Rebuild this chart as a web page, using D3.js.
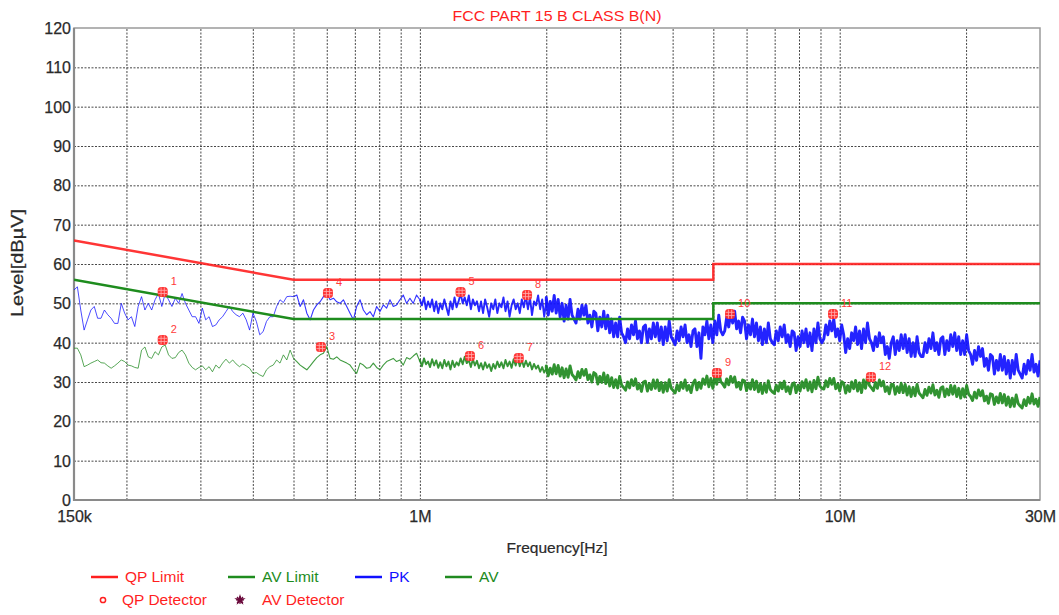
<!DOCTYPE html>
<html><head><meta charset="utf-8">
<script src="https://cdn.jsdelivr.net/npm/d3@7"></script>
<style>
body{margin:0;background:#fff;}
svg{display:block;font-family:"Liberation Sans",Arial,sans-serif;}
</style>
</head><body>
<svg id="chart" width="1059" height="615"></svg>
<script>
// ---------------- DATA ----------------
const title = "FCC PART 15 B CLASS B(N)";
const yTicks = [0,10,20,30,40,50,60,70,80,90,100,110,120];
const xGridFreqs = [0.2,0.3,0.4,0.5,0.6,0.7,0.8,0.9,1,2,3,4,5,6,7,8,9,10,20]; // MHz
const xTickFreqs = [0.15,1,10,30];
const xTickText = ["150k","1M","10M","30M"];

const qpLimitFreq  = [0.15,0.5,5,5,30];
const qpLimitLevel = [66,56,56,60,60];
const avLimitFreq  = [0.15,0.5,5,5,30];
const avLimitLevel = [56,46,46,50,50];

// Sweep segments (frequency span in MHz)
const segSpans = [[0.15,0.5],[0.5,1],[1,2],[2,30]];

const pkSegA = [53.4,54.2,48.3,43.2,45.8,48.3,49.2,46.2,46.2,48.3,
47.1,46.2,44.9,44.9,50.0,47.5,45.8,46.6,44.1,49.2,
51.7,48.3,50.0,48.3,50.9,52.5,49.2,52.5,50.9,49.2,
51.3,50.0,52.5,50.0,48.3,46.6,46.6,44.9,48.8,45.8,
46.6,44.1,44.5,45.8,46.6,47.9,49.2,47.9,47.1,46.6,
47.5,45.8,43.2,47.5,45.4,42.0,42.8,45.4,46.6,46.6,
49.2,50.9,50.2,51.7,51.8,51.7];
const pkSegB1 = [51.7,52.1,49.2,50.9,47.5,45.8,48.3,49.6,50.4,51.7,52.5,50.9,51.3,50.4,50.0,50.9,49.2,47.5,45.8,49.2,
50.9,48.3,47.1,47.9,46.6,49.2,47.9,49.6,48.8,50.9,49.2,49.6,50.9,52.1,50.0,51.3,50.0,52.1,50.9];
const pkSegB2 = [50.9,49.5,51.5,48.5,50.5,49.0,51.0,48.0,50.5,47.5,
50.0,48.5,51.0,49.0,47.0,50.5,48.5,51.5,49.0,50.5,
52.5,50.0,51.5,49.5,52.0,48.5,51.0,49.5,50.5,48.0,
50.5,47.5,51.0,49.0,46.6,50.0,48.5,51.0,47.5,50.0,
49.0,51.5,48.0,50.5,46.6,49.5,51.0,48.5,50.0,47.5,
51.0,49.0,52.0,48.5,51.5,47.0,50.5,49.5,52.0,48.5,51.0,46.6,50.5];
const pkSegC = [
51.5,47,50.5,48,52, 47.5,51,46.5,50,45.5, 49.5,46,51,47,46, 45,48.5,46,49.5,47, 49.5,45,47,44,48,
47.5,43,46.5,44,48, 43.5,47,42.5,46,41.5, 45,41.5,46.5,42.5,41.5, 40,43.5,41,44.5,42, 45.5,41,43,40,44,
44.5,40,43.5,41,45, 41.5,45,40.5,44,39.5, 44,40.5,45.5,41.5,40.5, 39.5,43,40.5,44,41.5, 44.5,40,42,39,43,
43.5,39,42.5,36,44, 42,45.5,41,44.5,40, 45.5,42,47,43,42, 43,46.5,44,47.5,45, 48,43.5,45.5,42.5,46.5,
45.5,41,44.5,42,46, 41.5,45,40.5,44,39.5, 43.5,40,45,41,40, 39.5,43,40.5,44,41.5, 44.5,40,42,39,43,
42.5,38,41.5,39,43, 40,43.5,39,42.5,38, 43.5,40,45,41,40, 41,44.5,42,45.5,43, 46,41.5,43.5,40.5,44.5,
42,37.5,41,38.5,42.5, 40.5,44,39.5,43,38.5, 43.5,40,45,41,40, 38,41.5,39,42.5,40, 41.5,37,39,36,40,
41.5,37,40.5,38,42, 38.5,42,37.5,41,36.5, 40,36.5,41.5,37.5,36.5, 36.5,40,37.5,41,38.5, 42.5,38,40,37,41,
41.5,37,40.5,38,42, 39,42.5,38,41.5,37, 40.5,37,42,38,37, 34.5,38,35.5,39,36.5, 38.5,34,36,33,37,
36.5,32,35.5,33,37, 33,36.5,32,35.5,31, 35.5,32,37,33,32, 31,34.5,32,35.5,33, 37,32.5,34.5,31.5,35.5];

const avSegA = [38.6,38.6,36.9,33.9,34.3,34.8,35.2,35.6,34.9,34.8,
34.1,33.5,34.1,34.8,35.6,35.2,34.3,34.1,33.7,33.5,
38.1,38.9,36.4,36.0,37.7,36.9,38.9,39.4,36.9,36.0,
36.2,37.5,38.1,36.9,34.8,33.7,33.1,33.7,34.1,33.1,
33.9,32.6,34.3,33.5,34.8,35.8,34.8,35.6,34.6,33.9,
34.6,34.1,33.5,32.2,32.4,31.8,31.4,33.1,33.9,34.3,
35.6,34.8,36.9,35.6,38.1,36.0];
const avSegB1 = [36.0,35.2,34.3,33.7,33.1,34.1,35.2,36.2,36.9,37.3,39.0,36.0,35.8,36.4,35.6,35.2,34.8,34.3,33.1,32.2,
34.8,34.3,33.5,33.7,34.8,33.7,33.1,34.3,35.2,35.6,36.0,35.2,35.6,34.3,36.2,35.8,36.6,37.3,35.2];
const avSegB2 = [35.6,34.0,36.0,34.5,35.2,33.8,35.8,34.2,35.5,33.6,
35.0,33.5,35.6,34.0,35.2,33.2,35.4,33.8,35.0,34.2,
36.0,34.5,36.4,34.8,35.6,33.8,35.8,34.2,35.4,33.5,
34.8,33.2,35.0,33.6,34.5,32.8,34.6,33.4,35.2,33.8,
35.0,33.5,35.6,34.0,35.2,33.6,35.8,34.2,36.0,34.0,
35.6,33.8,35.4,34.0,35.0,33.2,34.6,33.4,34.2,32.6,33.8,32.4,33.4];
const avSegC = [
34.1,31.6,33.5,32.0,34.4, 32.1,34.2,31.5,33.6,31.1, 33.3,31.2,34.1,31.9,31.3, 30.5,32.6,31.1,33.2,31.7, 33.2,30.6,31.8,30.0,32.4,
32.0,29.5,31.4,29.9,32.3, 29.6,31.7,29.0,31.1,28.6, 30.6,28.5,31.4,29.2,28.6, 27.9,30.0,28.5,30.6,29.1, 30.8,28.2,29.4,27.6,30.0,
30.2,27.7,29.6,28.1,30.5, 28.4,30.5,27.8,29.9,27.4, 29.8,27.7,30.6,28.4,27.8, 27.2,29.3,27.8,29.9,28.4, 30.5,27.9,29.1,27.3,29.7,
30.5,28.0,29.9,28.4,30.8, 29.4,31.5,28.8,30.9,28.4, 31.5,29.4,32.3,30.1,29.5, 28.7,30.8,29.3,31.4,29.9, 31.3,28.7,29.9,28.1,30.5,
30.3,27.8,29.7,28.2,30.6, 28.1,30.2,27.5,29.6,27.1, 29.5,27.4,30.3,28.1,27.5, 27.1,29.2,27.7,29.8,28.3, 30.2,27.6,28.8,27.0,29.4,
29.8,27.3,29.2,27.7,30.1, 28.5,30.6,27.9,30.0,27.5, 30.4,28.3,31.2,29.0,28.4, 28.2,30.3,28.8,30.9,29.4, 30.9,28.3,29.5,27.7,30.1,
29.7,27.2,29.1,27.6,30.0, 28.3,30.4,27.7,29.8,27.3, 30.5,28.4,31.3,29.1,28.5, 27.8,29.9,28.4,30.5,29.0, 30.2,27.6,28.8,27.0,29.4,
29.4,26.9,28.8,27.3,29.7, 27.3,29.4,26.7,28.8,26.3, 28.6,26.5,29.4,27.2,26.6, 26.0,28.1,26.6,28.7,27.2, 29.3,26.7,27.9,26.1,28.5,
28.8,26.3,28.2,26.7,29.1, 26.9,29.0,26.3,28.4,25.9, 28.3,26.2,29.1,26.9,26.3, 25.3,27.4,25.9,28.0,26.5, 27.8,25.2,26.4,24.6,27.0,
26.8,24.3,26.2,24.7,27.1, 24.7,26.8,24.1,26.2,23.7, 25.9,23.8,26.7,24.5,23.9, 23.4,25.5,24.0,26.1,24.6, 27.0,24.4,25.6,23.8,26.2];

const markerFreq  = [0.244,0.244,0.581,0.604,1.25,1.316,1.72,1.80,5.10,5.48,9.64,11.87];
const markerLevel = [52.9,40.7,38.9,52.6,52.9,36.6,36.1,52.1,32.3,47.3,47.3,31.3];
const markerLabel = ["1","2","3","4","5","6","7","8","9","10","11","12"];

const legendLineNames = ["QP Limit","AV Limit","PK","AV"];
const legendMarkerNames = ["QP Detector","AV Detector"];

// ---------------- DRAW ----------------
const C = {red:"#ff1f1f", green:"#1e8c1e", blue:"#1010ff", avg:"#208a20", grid:"#333", text:"#2a2a2a"};
const svg = d3.select("#chart");
const L=74, R=1040, T=28, B=500;
const x = d3.scaleLog().domain([0.15,30]).range([L,R]);
const y = d3.scaleLinear().domain([0,120]).range([B,T]);

function sweep(span, vals){
  const [f0,f1]=span;
  return vals.map((v,i)=>[f0*Math.pow(f1/f0, i/(vals.length-1)), v]);
}
const pkSegs = [pkSegA,pkSegB1,pkSegB2,pkSegC].map((s,i)=>sweep(segSpans[i],s));
const avSegs = [avSegA,avSegB1,avSegB2,avSegC].map((s,i)=>sweep(segSpans[i],s));
const segWidth = [1,1.1,1.9,2.9];
const segOpacity = [0.75,0.85,0.9,0.92];

// title
svg.append("text").attr("x",557).attr("y",21).attr("text-anchor","middle")
  .attr("font-size",15).attr("textLength",209).attr("lengthAdjust","spacingAndGlyphs")
  .attr("fill",C.red).text(title);

// grid
const gridV = svg.append("g").attr("transform",`translate(0,${B})`)
  .call(d3.axisBottom(x).tickValues(xGridFreqs).tickSize(-(B-T)).tickFormat(""));
const gridH = svg.append("g").attr("transform",`translate(${L},0)`)
  .call(d3.axisLeft(y).tickValues(yTicks.filter(d=>d>0&&d<120)).tickSize(-(R-L)).tickFormat(""));
[gridV,gridH].forEach(g=>{
  g.select(".domain").remove();
  g.selectAll("line").attr("stroke",C.grid).attr("stroke-width",1).attr("stroke-dasharray","2,1.5").attr("opacity",0.9);
});

// frame
svg.append("rect").attr("x",L).attr("y",T).attr("width",R-L).attr("height",B-T)
  .attr("fill","none").attr("stroke","#9a9a9a").attr("stroke-width",1.5);
svg.append("path").attr("d",`M${L},${T}V${B}H${R}`).attr("fill","none").attr("stroke","#8a8a8a").attr("stroke-width",2.2);

// tick labels
const yLab = svg.append("g").attr("transform",`translate(${L-3},0)`)
  .call(d3.axisLeft(y).tickValues(yTicks).tickSize(0).tickPadding(0));
const xLab = svg.append("g").attr("transform",`translate(0,${B})`)
  .call(d3.axisBottom(x).tickValues(xTickFreqs).tickFormat((d,i)=>xTickText[i]).tickSize(0).tickPadding(11));
[yLab,xLab].forEach(g=>{
  g.select(".domain").remove();
  g.selectAll("text").attr("font-size",16).attr("fill",C.text)
    .attr("stroke",C.text).attr("stroke-width",0.25)
    .attr("font-family","Liberation Sans, Arial, sans-serif");
});
yLab.selectAll("text").attr("dy","0.35em");

// axis titles
svg.append("text").attr("x",557).attr("y",553).attr("text-anchor","middle")
  .attr("font-size",15).attr("textLength",101).attr("lengthAdjust","spacingAndGlyphs")
  .attr("fill",C.text).attr("stroke",C.text).attr("stroke-width",0.2).text("Frequency[Hz]");
svg.append("text").attr("transform","translate(23,263) rotate(-90)").attr("text-anchor","middle")
  .attr("font-size",16).attr("textLength",108).attr("lengthAdjust","spacingAndGlyphs")
  .attr("fill",C.text).attr("stroke",C.text).attr("stroke-width",0.25).text("Level[dBµV]");

// traces
svg.append("defs").append("clipPath").attr("id","clip").append("rect")
  .attr("x",L).attr("y",T).attr("width",R-L).attr("height",B-T);
const line = d3.line().x(d=>x(d[0])).y(d=>y(d[1]));
const plot = svg.append("g").attr("clip-path","url(#clip)");
function drawSegs(segs,color){
  segs.forEach((s,i)=>{
    const pts = i>0 ? [segs[i-1][segs[i-1].length-1]].concat(s) : s;
    plot.append("path").datum(pts).attr("d",line).attr("fill","none")
      .attr("stroke",color).attr("stroke-width",segWidth[i]).attr("opacity",segOpacity[i])
      .attr("stroke-linejoin","round");
  });
}
drawSegs(pkSegs,C.blue);
drawSegs(avSegs,C.avg);

// limits
const limLine = d3.line().x(d=>x(d[0])).y(d=>y(d[1]));
plot.append("path").datum(avLimitFreq.map((f,i)=>[f,avLimitLevel[i]])).attr("d",limLine)
  .attr("fill","none").attr("stroke",C.green).attr("stroke-width",2.5);
plot.append("path").datum(qpLimitFreq.map((f,i)=>[f,qpLimitLevel[i]])).attr("d",limLine)
  .attr("fill","none").attr("stroke",C.red).attr("stroke-width",2.5).attr("opacity",0.9);

// markers
const mk = svg.append("g").selectAll("g").data(markerFreq.map((f,i)=>({f,v:markerLevel[i],t:markerLabel[i]})))
  .join("g").attr("transform",d=>`translate(${x(d.f)},${y(d.v)})`);
mk.append("rect").attr("x",-5).attr("y",-5).attr("width",10).attr("height",10).attr("rx",3.5)
  .attr("fill","#ff2a2a").attr("opacity",0.95);
mk.append("path").attr("d","M-4.5,-1.6H4.5M-4.5,1.6H4.5M-1.6,-4.5V4.5M1.6,-4.5V4.5").attr("stroke","#ffb0b0").attr("stroke-width",0.8);
mk.append("text").attr("x",8).attr("y",-7).attr("font-size",11).attr("fill","#ff3a3a").text(d=>d.t);

// legend
const legColors=[C.red,C.green,C.blue,C.avg];
const legX=[91,228,355,445];
legendLineNames.forEach((n,i)=>{
  svg.append("line").attr("x1",legX[i]).attr("x2",legX[i]+27).attr("y1",577).attr("y2",577)
    .attr("stroke",legColors[i]).attr("stroke-width",2.5);
  svg.append("text").attr("x",legX[i]+34).attr("y",582).attr("font-size",15.5).attr("fill",legColors[i]).text(n);
});
svg.append("circle").attr("cx",103).attr("cy",600).attr("r",2.6).attr("fill","none").attr("stroke",C.red).attr("stroke-width",1.5);
svg.append("text").attr("x",122).attr("y",605).attr("font-size",15.5).attr("fill",C.red).text(legendMarkerNames[0]);
svg.append("path").attr("transform","translate(240,600)")
  .attr("d",d3.symbol(d3.symbolStar,40)()).attr("fill","#6b0a3c");
svg.append("path").attr("transform","translate(240,600)")
  .attr("d","M-4,0H4M0,-4V4M-3,-3L3,3M-3,3L3,-3").attr("stroke","#6b0a3c").attr("stroke-width",1.2);
svg.append("text").attr("x",262).attr("y",605).attr("font-size",15.5).attr("fill",C.red).text(legendMarkerNames[1]);
</script>
</body></html>
